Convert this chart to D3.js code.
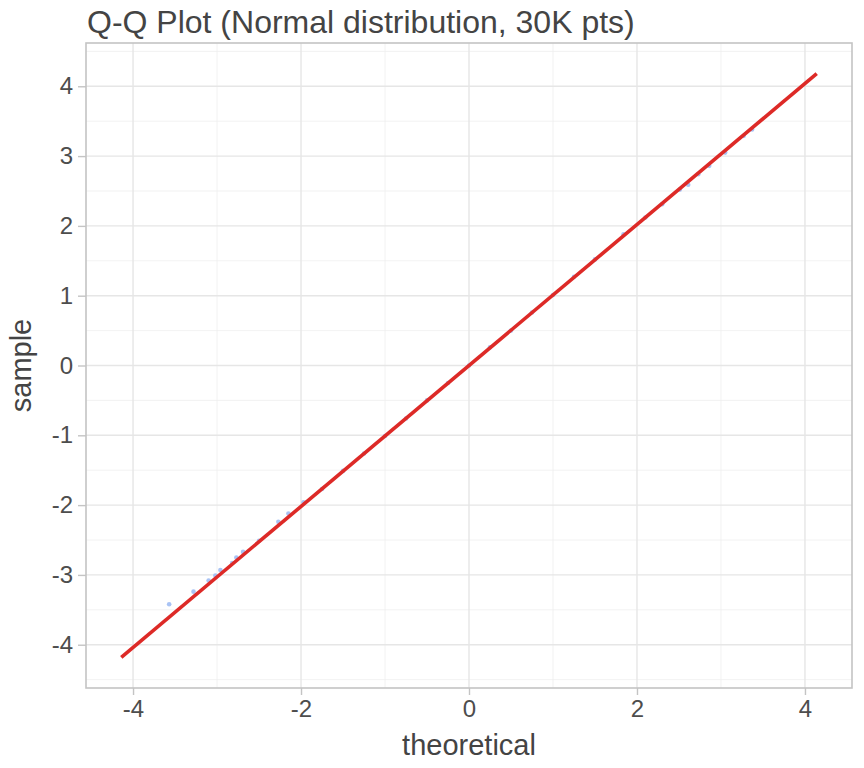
<!DOCTYPE html>
<html>
<head>
<meta charset="utf-8">
<script src="https://cdn.jsdelivr.net/npm/d3@7"></script>
<style>
  body { margin: 0; background: #fff; }
  text { font-family: "Liberation Sans", Arial, Helvetica, sans-serif; }
</style>
</head>
<body>
<div id="chart"></div>
<script>
// sample quantiles (most of the 30K points sit under the red line)
const theoretical = [-3.57, -3.28, -3.10, -3.02, -2.96, -2.82, -2.77, -2.69, -2.50, -2.27, -2.15, -1.97,
  -1.75, -1.50, -1.25, -1.00, -0.75, -0.50, -0.25, 0.00, 0.25, 0.50, 0.75, 1.00, 1.25, 1.50,
  1.84, 2.10, 2.30, 2.51, 2.61, 2.73, 2.86, 3.05, 3.27, 3.37];
const sample = [-3.42, -3.24, -3.08, -3.01, -2.93, -2.83, -2.75, -2.67, -2.51, -2.24, -2.12, -1.96,
  -1.77, -1.51, -1.26, -1.01, -0.76, -0.50, -0.25, 0.00, 0.26, 0.50, 0.76, 1.01, 1.27, 1.52,
  1.88, 2.12, 2.31, 2.52, 2.59, 2.74, 2.86, 3.05, 3.29, 3.38];

// reference line ends
const lineX = [-4.14, 4.14];
const lineY = [-4.18, 4.18];

const xTicks = [-4, -2, 0, 2, 4];
const xMinor = [-3, -1, 1, 3];
const yTicks = [-4, -3, -2, -1, 0, 1, 2, 3, 4];
const yMinor = [-4.5, -3.5, -2.5, -1.5, -0.5, 0.5, 1.5, 2.5, 3.5, 4.5];

const titleText = "Q-Q Plot (Normal distribution, 30K pts)";

const margin = { top: 43, right: 12, bottom: 80, left: 86 };
const width = 864 - margin.left - margin.right;
const height = 768 - margin.top - margin.bottom;

const x = d3.scaleLinear().domain([-4.56, 4.56]).range([0, width]);
const y = d3.scaleLinear().domain([-4.62, 4.62]).range([height, 0]);

const svg = d3
  .select("#chart")
  .append("svg")
  .attr("width", 864)
  .attr("height", 768);

const g = svg.append("g").attr("transform", `translate(${margin.left}, ${margin.top})`);

// minor grid
g.selectAll(".ymin").data(yMinor).enter().append("line")
  .attr("x1", 0).attr("x2", width)
  .attr("y1", (d) => y(d)).attr("y2", (d) => y(d))
  .attr("stroke", "#efefef").attr("stroke-width", 0.8);
g.selectAll(".xmin").data(xMinor).enter().append("line")
  .attr("y1", 0).attr("y2", height)
  .attr("x1", (d) => x(d)).attr("x2", (d) => x(d))
  .attr("stroke", "#efefef").attr("stroke-width", 0.8);

// major grid
g.selectAll(".ymaj").data(yTicks).enter().append("line")
  .attr("x1", 0).attr("x2", width)
  .attr("y1", (d) => y(d)).attr("y2", (d) => y(d))
  .attr("stroke", "#e6e6e6").attr("stroke-width", 1.4);
g.selectAll(".xmaj").data(xTicks).enter().append("line")
  .attr("y1", 0).attr("y2", height)
  .attr("x1", (d) => x(d)).attr("x2", (d) => x(d))
  .attr("stroke", "#e6e6e6").attr("stroke-width", 1.4);

// points
const pts = theoretical.map((t, i) => ({ t: t, s: sample[i] }));
g.selectAll("circle").data(pts).enter().append("circle")
  .attr("cx", (d) => x(d.t))
  .attr("cy", (d) => y(d.s))
  .attr("r", 2.3)
  .attr("fill", "#a9c3f4");

// qq line
g.append("line")
  .attr("x1", x(lineX[0])).attr("y1", y(lineY[0]))
  .attr("x2", x(lineX[1])).attr("y2", y(lineY[1]))
  .attr("stroke", "#dd2a27")
  .attr("stroke-width", 3.6);

// panel border
g.append("rect")
  .attr("width", width).attr("height", height)
  .attr("fill", "none")
  .attr("stroke", "#c4c4c4")
  .attr("stroke-width", 1.6);

// axes
const xAxis = g.append("g")
  .attr("transform", `translate(0, ${height})`)
  .call(d3.axisBottom(x).tickValues(xTicks).tickSize(7).tickPadding(5).tickFormat(d3.format("d")));
const yAxis = g.append("g")
  .call(d3.axisLeft(y).tickValues(yTicks).tickSize(8).tickPadding(5).tickFormat(d3.format("d")));

[xAxis, yAxis].forEach((a) => {
  a.select(".domain").remove();
  a.selectAll(".tick line").attr("stroke", "#c4c4c4").attr("stroke-width", 1.4);
  a.selectAll(".tick text")
    .attr("fill", "#4d4d4d")
    .style("font-size", "24px")
    .style("font-family", '"Liberation Sans", Arial, sans-serif');
});
// ggplot style minus sign is a plain hyphen
xAxis.selectAll(".tick text").text((d) => String(d));
yAxis.selectAll(".tick text").text((d) => String(d));

// axis titles
svg.append("text")
  .attr("x", margin.left + width / 2)
  .attr("y", 755)
  .attr("text-anchor", "middle")
  .attr("fill", "#444")
  .style("font-size", "29px")
  .text("theoretical");

svg.append("text")
  .attr("transform", `translate(31, ${margin.top + height / 2}) rotate(-90)`)
  .attr("text-anchor", "middle")
  .attr("fill", "#444")
  .style("font-size", "29px")
  .text("sample");

// title
svg.append("text")
  .attr("x", 87)
  .attr("y", 33)
  .attr("fill", "#444")
  .style("font-size", "32px")
  .text(titleText);
</script>
</body>
</html>
